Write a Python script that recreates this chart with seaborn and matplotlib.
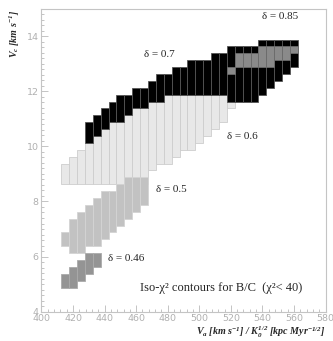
import numpy as np
import matplotlib
matplotlib.use("Agg")
import matplotlib.pyplot as plt
import seaborn as sns
from matplotlib.ticker import MultipleLocator

# --- data: iso-chi2 regions, one column per Va grid value (step 5) ---
# delta = 0.46
va_046 = [415, 420, 425, 430, 435]
lo_046 = [4.875, 4.875, 5.125, 5.375, 5.625]
hi_046 = [5.375, 5.625, 5.875, 6.125, 6.125]

# delta = 0.5
va_050 = [415, 420, 425, 430, 435, 440, 445, 450, 455, 460, 465]
lo_050 = [6.375, 6.125, 6.125, 6.375, 6.375, 6.625, 6.875, 7.125, 7.375, 7.625, 7.875]
hi_050 = [6.875, 7.375, 7.625, 7.875, 8.125, 8.375, 8.375, 8.625, 8.875, 8.875, 8.875]

# delta = 0.6
va_060 = [415, 420, 425, 430, 435, 440, 445, 450, 455, 460, 465,
          470, 475, 480, 485, 490, 495, 500, 505, 510, 515, 520]
lo_060 = [8.625, 8.625, 8.625, 8.625, 8.625, 8.625, 8.625, 8.625, 8.625, 8.625, 8.625,
          9.125, 9.375, 9.375, 9.625, 9.875, 9.875, 10.125, 10.375, 10.625, 10.875, 11.375]
hi_060 = [9.375, 9.625, 9.875, 10.125, 10.375, 10.625, 10.875, 10.875, 11.125, 11.375, 11.375,
          11.625, 11.625, 11.875, 11.875, 11.875, 11.875, 11.875, 11.875, 11.875, 11.875, 11.625]

# delta = 0.7
va_070 = [430, 435, 440, 445, 450, 455, 460, 465, 470, 475, 480, 485, 490, 495,
          500, 505, 510, 515, 520, 525, 530, 535, 540, 545, 550, 555, 560]
lo_070 = [10.125, 10.375, 10.625, 10.875, 10.875, 11.125, 11.375, 11.375, 11.625, 11.625,
          11.875, 11.875, 11.875, 11.875, 11.875, 11.875, 11.875, 11.875, 11.625, 11.625,
          11.625, 11.625, 11.875, 12.125, 12.375, 12.625, 12.875]
hi_070 = [10.875, 11.125, 11.375, 11.625, 11.875, 11.875, 12.125, 12.125, 12.375, 12.625,
          12.625, 12.875, 12.875, 13.125, 13.125, 13.125, 13.375, 13.375, 13.625, 13.625,
          13.625, 13.625, 13.875, 13.875, 13.875, 13.875, 13.875]

# delta = 0.85
va_085 = [520, 525, 530, 535, 540, 545, 550, 555, 560]
lo_085 = [12.625, 12.875, 12.875, 12.875, 12.875, 12.875, 13.125, 13.125, 13.375]
hi_085 = [12.875, 13.375, 13.375, 13.375, 13.625, 13.625, 13.625, 13.625, 13.625]

CELL_W = 5

sns.set_theme(style="white")
plt.rcParams['font.family'] = ['Liberation Serif', 'DejaVu Serif']
plt.rcParams['mathtext.fontset'] = 'custom'
plt.rcParams['mathtext.rm'] = 'Liberation Serif:bold:italic'
plt.rcParams['mathtext.it'] = 'Liberation Serif:bold:italic'
plt.rcParams['mathtext.bf'] = 'Liberation Serif:bold:italic'

fig = plt.figure(figsize=(3.33, 3.41), dpi=100)
ax = fig.add_axes([0.1246, 0.0859, 0.853, 0.889])


def draw_region(va, lo, hi, face, edge):
    lo = np.asarray(lo)
    hi = np.asarray(hi)
    ax.bar(va, hi - lo, bottom=lo, width=CELL_W, color=face,
           edgecolor=edge, linewidth=0.6, align='center')


draw_region(va_060, lo_060, hi_060, '#e8e8e8', '#cdcdcd')
draw_region(va_050, lo_050, hi_050, '#c2c2c2', '#d4d4d4')
draw_region(va_046, lo_046, hi_046, '#949494', '#aaaaaa')
draw_region(va_070, lo_070, hi_070, '#000000', '#555555')
draw_region(va_085, lo_085, hi_085, '#8a8a8a', '#6a6a6a')

ax.set_xlim(400, 580)
ax.set_ylim(4, 15)
ax.xaxis.set_major_locator(MultipleLocator(20))
ax.xaxis.set_minor_locator(MultipleLocator(4))
ax.yaxis.set_major_locator(MultipleLocator(2))
ax.yaxis.set_minor_locator(MultipleLocator(0.2))

axis_grey = '#c4c4c4'
for sp in ax.spines.values():
    sp.set_color(axis_grey)
    sp.set_linewidth(0.8)
ax.tick_params(which='both', direction='in', color=axis_grey, width=0.7,
               left=True, bottom=True, top=False, right=False)
ax.tick_params(which='major', length=5)
ax.tick_params(which='minor', length=2.5)
ax.tick_params(axis='both', labelsize=6.8, labelcolor='#b0b0b0', pad=2)
for lab in ax.get_xticklabels() + ax.get_yticklabels():
    lab.set_fontfamily('DejaVu Sans')

# labels
ax.text(-0.093, 0.995, r'$V_c$ [km s$^{-1}$]', transform=ax.transAxes, rotation=90,
        ha='center', va='top', fontsize=7.2, fontweight='bold', fontstyle='italic')
ax.text(1.0, -0.07, r'$V_a$ [km s$^{-1}$] / $K_0^{1/2}$ [kpc Myr$^{-1/2}$]',
        transform=ax.transAxes, ha='right', va='center', fontsize=7.2,
        fontweight='bold', fontstyle='italic')

# region annotations
ax.text(551, 14.7, 'δ = 0.85', fontsize=8, ha='center', va='center')
ax.text(475, 13.35, 'δ = 0.7', fontsize=8, ha='center', va='center')
ax.text(527, 10.35, 'δ = 0.6', fontsize=8, ha='center', va='center')
ax.text(482, 8.42, 'δ = 0.5', fontsize=8, ha='center', va='center')
ax.text(453.5, 5.93, 'δ = 0.46', fontsize=8, ha='center', va='center')
ax.text(514, 4.85, 'Iso-χ² contours for B/C  (χ²< 40)', fontsize=9,
        ha='center', va='center')

fig.savefig('out.png', dpi=100)
